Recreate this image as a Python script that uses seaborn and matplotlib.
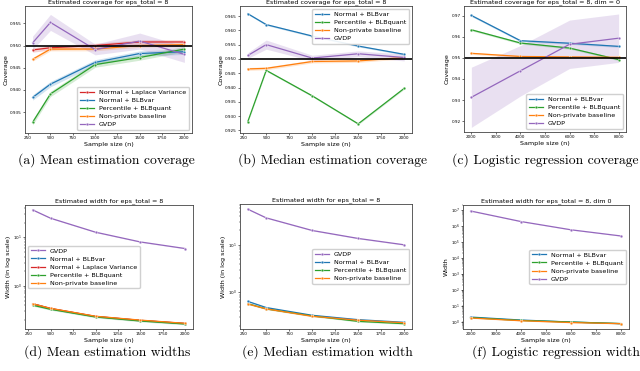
import matplotlib
matplotlib.use("Agg")
import matplotlib.pyplot as plt
import numpy as np
import seaborn as sns
from matplotlib.ticker import LogLocator

# sample sizes
x_mean = [300, 500, 1000, 1500, 2000]
x_logit = [2000, 4000, 6000, 8000]

# (a) mean estimation coverage
a_lap = [0.9490, 0.9495, 0.9500, 0.9508, 0.9508]
a_blb = [0.9383, 0.9413, 0.9462, 0.9482, 0.9486]
a_pct = [0.9327, 0.9391, 0.9457, 0.9473, 0.9492]
a_np = [0.9469, 0.9492, 0.9492, 0.9500, 0.9502]
a_gvdp = [0.9506, 0.9552, 0.9491, 0.9510, 0.9480]
a_gvdp_band = [0.0015, 0.0018, 0.0012, 0.0018, 0.0018]

# (b) median estimation coverage
b_blb = [0.9658, 0.9620, 0.9580, 0.9545, 0.9516]
b_pct = [0.9281, 0.9460, 0.9371, 0.9273, 0.9397]
b_np = [0.9465, 0.9467, 0.9491, 0.9493, 0.9505]
b_gvdp = [0.9512, 0.9550, 0.9503, 0.9518, 0.9505]
b_gvdp_band = [0.0010, 0.0016, 0.0010, 0.0010, 0.0012]

# (c) logistic regression coverage
c_blb = [0.9702, 0.9582, 0.9570, 0.9555]
c_pct = [0.9634, 0.9571, 0.9547, 0.9492]
c_np = [0.9522, 0.9507, 0.9505, 0.9503]
c_gvdp = [0.9313, 0.9439, 0.9565, 0.9594]
c_gvdp_band = [0.0143, 0.0120, 0.0115, 0.0115]

# (d) mean estimation width
d_gvdp = [36.5, 24.6, 12.7, 8.0, 5.85]
d_blb = [0.43, 0.34, 0.235, 0.195, 0.168]
d_lap = [0.43, 0.345, 0.236, 0.196, 0.169]
d_pct = [0.40, 0.33, 0.230, 0.190, 0.165]
d_np = [0.43, 0.345, 0.238, 0.198, 0.170]

# (e) median estimation width
e_gvdp = [56.0, 36.8, 20.0, 13.6, 10.0]
e_blb = [0.647, 0.48, 0.33, 0.267, 0.235]
e_pct = [0.58, 0.45, 0.32, 0.246, 0.22]
e_np = [0.57, 0.45, 0.315, 0.26, 0.23]

# (f) logistic regression width
f_blb = [1.95, 1.27, 0.95, 0.75]
f_pct = [1.80, 1.20, 0.95, 0.76]
f_np = [1.70, 1.15, 0.88, 0.75]
f_gvdp = [9.0e6, 1.96e6, 5.9e5, 2.4e5]

colors = {
    "Normal + BLBvar": "#1f77b4",
    "Non-private baseline": "#ff7f0e",
    "Percentile + BLBquant": "#2ca02c",
    "Normal + Laplace Variance": "#d62728",
    "GVDP": "#9467bd",
}

TICK = 3.0
LAB = 4.6
LEG = 4.6


def draw(ax, x, y, label, half=None, rel=None):
    c = colors[label]
    y = np.asarray(y, dtype=float)
    if rel is not None:
        lo, hi = y * (1 - rel), y * (1 + rel)
    else:
        h = np.asarray(half if half is not None else 0.0005)
        lo, hi = y - h, y + h
    ax.fill_between(x, lo, hi, color=c, alpha=0.2, linewidth=0)
    sns.lineplot(x=x, y=y, ax=ax, color=c, label=label, marker="o",
                 markersize=2.0, markeredgecolor="white", markeredgewidth=0.3,
                 linewidth=0.9)


def style(ax, title, ylabel):
    ax.set_title(title, fontsize=LAB, pad=2)
    ax.set_xlabel("Sample size (n)", fontsize=LAB, labelpad=1)
    ax.set_ylabel(ylabel, fontsize=LAB, labelpad=1)
    ax.tick_params(labelsize=TICK, length=1.5, width=0.4, pad=1)
    ax.tick_params(which="minor", length=1, width=0.3)
    for s in ax.spines.values():
        s.set_linewidth(0.6)
        s.set_color("#444444")


def leg(ax, loc):
    ax.legend(loc=loc, fontsize=LEG, framealpha=0.92, borderpad=0.4,
              labelspacing=0.4, handlelength=2.2)


fig = plt.figure(figsize=(6.4, 3.71), dpi=100)
W, H = 640, 371


def add_axes(l, r, t, b):
    return fig.add_axes([l / W, 1 - b / H, (r - l) / W, (b - t) / H])


ax_a = add_axes(25, 192, 6, 133)
ax_b = add_axes(240, 412, 6, 133)
ax_c = add_axes(464, 626, 6, 132)
ax_d = add_axes(25, 193, 205, 329)
ax_e = add_axes(240, 412, 204, 329)
ax_f = add_axes(463, 629, 205, 329)

# (a)
draw(ax_a, x_mean, a_lap, "Normal + Laplace Variance", half=0.0005)
draw(ax_a, x_mean, a_blb, "Normal + BLBvar", half=0.0006)
draw(ax_a, x_mean, a_pct, "Percentile + BLBquant", half=0.0006)
draw(ax_a, x_mean, a_np, "Non-private baseline", half=0.0004)
draw(ax_a, x_mean, a_gvdp, "GVDP", half=a_gvdp_band)
ax_a.axhline(0.95, color="black", linewidth=1.2)
ax_a.set_ylim(0.9303, 0.9589)
style(ax_a, "Estimated coverage for eps_total = 8", "Coverage")
leg(ax_a, "lower right")

# (b)
draw(ax_b, x_mean, b_blb, "Normal + BLBvar", half=0.0003)
draw(ax_b, x_mean, b_pct, "Percentile + BLBquant", half=0.0003)
draw(ax_b, x_mean, b_np, "Non-private baseline", half=0.0005)
draw(ax_b, x_mean, b_gvdp, "GVDP", half=b_gvdp_band)
ax_b.axhline(0.95, color="black", linewidth=1.2)
ax_b.set_ylim(0.9241, 0.9685)
style(ax_b, "Estimated coverage for eps_total = 8", "Coverage")
leg(ax_b, "upper right")

# (c)
draw(ax_c, x_logit, c_blb, "Normal + BLBvar", half=0.0005)
draw(ax_c, x_logit, c_pct, "Percentile + BLBquant", half=0.0005)
draw(ax_c, x_logit, c_np, "Non-private baseline", half=0.0005)
draw(ax_c, x_logit, c_gvdp, "GVDP", half=c_gvdp_band)
ax_c.axhline(0.95, color="black", linewidth=1.2)
ax_c.set_ylim(0.9148, 0.9747)
style(ax_c, "Estimated coverage for eps_total = 8, dim = 0", "Coverage")
leg(ax_c, "lower right")

# (d)
draw(ax_d, x_mean, d_gvdp, "GVDP", rel=0.02)
draw(ax_d, x_mean, d_blb, "Normal + BLBvar", rel=0.04)
draw(ax_d, x_mean, d_lap, "Normal + Laplace Variance", rel=0.03)
draw(ax_d, x_mean, d_pct, "Percentile + BLBquant", rel=0.04)
draw(ax_d, x_mean, d_np, "Non-private baseline", rel=0.03)
ax_d.set_yscale("log")
ax_d.set_ylim(0.13, 46)
style(ax_d, "Estimated width for eps_total = 8", "Width (in log scale)")
leg(ax_d, "center left")

# (e)
draw(ax_e, x_mean, e_gvdp, "GVDP", rel=0.02)
draw(ax_e, x_mean, e_blb, "Normal + BLBvar", rel=0.03)
draw(ax_e, x_mean, e_pct, "Percentile + BLBquant", rel=0.03)
draw(ax_e, x_mean, e_np, "Non-private baseline", rel=0.03)
ax_e.set_yscale("log")
ax_e.set_ylim(0.17, 72)
style(ax_e, "Estimated width for eps_total = 8", "Width (in log scale)")
leg(ax_e, "center right")

# (f)
draw(ax_f, x_logit, f_blb, "Normal + BLBvar", rel=0.05)
draw(ax_f, x_logit, f_pct, "Percentile + BLBquant", rel=0.05)
draw(ax_f, x_logit, f_np, "Non-private baseline", rel=0.05)
draw(ax_f, x_logit, f_gvdp, "GVDP", rel=0.03)
ax_f.set_yscale("log")
ax_f.set_ylim(10 ** -0.46, 10 ** 7.33)
ax_f.yaxis.set_major_locator(LogLocator(base=10, numticks=12))
style(ax_f, "Estimated width for eps_total = 8, dim 0", "Width")
leg(ax_f, "center right")

# captions
caps = [
    (106, 160, "(a) Mean estimation coverage"),
    (333, 160, "(b) Median estimation coverage"),
    (545, 160, "(c) Logistic regression coverage"),
    (107, 352, "(d) Mean estimation widths"),
    (327, 352, "(e) Median estimation width"),
    (556, 352, "(f) Logistic regression width"),
]
for cx, cy, txt in caps:
    fig.text(cx / W, 1 - cy / H, txt, ha="center", va="center",
             fontsize=9.8, family="cmr10")

fig.savefig("out.png", dpi=100)
